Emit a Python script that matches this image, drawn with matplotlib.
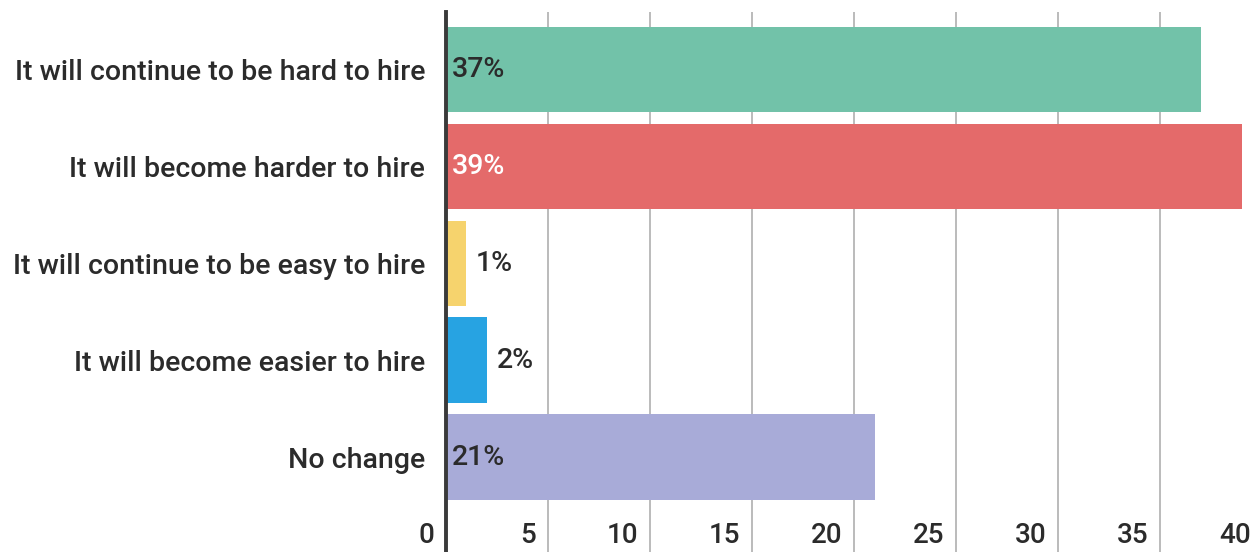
import numpy as np
import matplotlib
matplotlib.use("Agg")
import matplotlib.pyplot as plt
import matplotlib.transforms as mtransforms

plt.rcParams['font.family'] = ['Roboto', 'DejaVu Sans']

# data
categories = ["It will continue to be hard to hire",
              "It will become harder to hire",
              "It will continue to be easy to hire",
              "It will become easier to hire",
              "No change"]
values = [37, 39, 1, 2, 21]
colors = ["#72c2a9", "#e46a6a", "#f6d36d", "#27a3e2", "#a8abd8"]
label_colors = ["#2b2b2b", "white", "#2b2b2b", "#2b2b2b", "#2b2b2b"]
xticks = [0, 5, 10, 15, 20, 25, 30, 35, 40]

fig = plt.figure(figsize=(12.6, 5.52), dpi=100)
ax = fig.add_axes([0.354, 0.0, 0.648, 0.978])

ind = np.arange(len(categories))
ax.barh(ind, values, height=0.88, color=colors, zorder=2)

ax.set_xlim(0, 40)
ax.set_ylim(4.98, -0.59)

# grid
for t in xticks[1:]:
    ax.axvline(t, color="#b5b5b5", lw=1.3, zorder=1)

for s in ["top", "right", "bottom"]:
    ax.spines[s].set_visible(False)
ax.spines["left"].set_color("#3a3a3a")
ax.spines["left"].set_linewidth(2.8)
ax.spines["left"].set_zorder(3)

ax.set_xticks([])
ax.set_yticks(ind)
ax.set_yticklabels(categories, fontsize=20.5, fontweight="medium", color="#2b2b2b")
ax.tick_params(axis="y", length=0, pad=15)

# value labels
for i, v in enumerate(values):
    if v < 5:
        ax.annotate("%d%%" % v, (v, i), xytext=(7, 0), textcoords="offset points",
                    ha="left", va="center", fontsize=20.5, fontweight="medium",
                    color=label_colors[i], zorder=4)
    else:
        ax.annotate("%d%%" % v, (0, i), xytext=(4, 0), textcoords="offset points",
                    ha="left", va="center", fontsize=20.5, fontweight="medium",
                    color=label_colors[i], zorder=4)

# x tick labels drawn inside the bottom of the axes
trans = mtransforms.offset_copy(ax.get_xaxis_transform(), fig=fig, x=-12, y=0, units="dots")
for t in xticks:
    ax.text(t, 0.03, str(t), transform=trans, ha="right", va="center",
            fontsize=20, fontweight="medium", color="#2b2b2b")

fig.savefig("out.png", dpi=100)
